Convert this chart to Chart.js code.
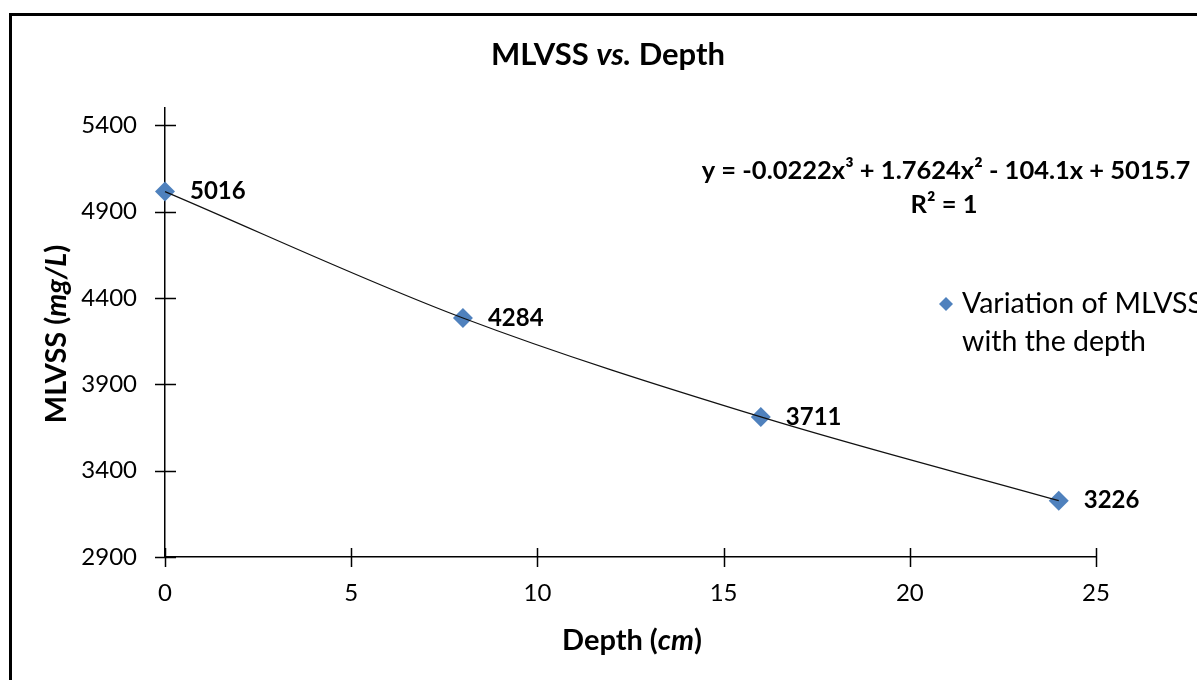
<!DOCTYPE html>
<html>
<head>
<meta charset="utf-8">
<script src="https://cdn.jsdelivr.net/npm/chart.js@4"></script>
<style>
  html, body { margin: 0; padding: 0; background: #fff; }
  #wrap { width: 1197px; height: 680px; }
</style>
</head>
<body>
<div id="wrap"><canvas id="c" width="1197" height="680"></canvas></div>
<script>
// ---- data ----
const depths = [0, 8, 16, 24];
const mlvss = [5016, 4284, 3711, 3226];
const xTickValues = [0, 5, 10, 15, 20, 25];
const yTickValues = [2900, 3400, 3900, 4400, 4900, 5400];
const titleParts = [['MLVSS ', false], ['vs.', true], [' Depth', false]];
const xTitleParts = [['Depth (', false], ['cm', true], [')', false]];
const yTitleParts = [['MLVSS (', false], ['mg/L', true], [')', false]];
const equationText = 'y = -0.0222x³ + 1.7624x² - 104.1x + 5015.7';
const r2Text = 'R² = 1';
const legendLines = ['Variation of MLVSS', 'with the depth'];

const FONT = 'Lato, "Open Sans", sans-serif';
const BLUE = '#4F81BD';
const points = depths.map((d, i) => ({ x: d, y: mlvss[i] }));

function drawRuns(ctx, parts, x, y, size, align) {
  let total = 0;
  const widths = parts.map(([t, it]) => {
    ctx.font = (it ? 'italic ' : '') + 'bold ' + size + 'px ' + FONT;
    const w = ctx.measureText(t).width;
    total += w;
    return w;
  });
  let cx = align === 'center' ? x - total / 2 : x;
  ctx.textAlign = 'left';
  ctx.textBaseline = 'middle';
  parts.forEach(([t, it], i) => {
    ctx.font = (it ? 'italic ' : '') + 'bold ' + size + 'px ' + FONT;
    ctx.fillText(t, cx, y);
    cx += widths[i];
  });
}

const decor = {
  id: 'decor',
  afterDatasetsDraw(chart) {
    const ctx = chart.ctx;
    const xs = chart.scales.x, ys = chart.scales.y;
    ctx.save();
    // cross tick marks
    ctx.strokeStyle = '#000';
    ctx.lineWidth = 1.5;
    ctx.beginPath();
    yTickValues.forEach(v => {
      const py = Math.round(ys.getPixelForValue(v)) + 0.5;
      ctx.moveTo(xs.left - 10, py); ctx.lineTo(xs.left + 11, py);
    });
    xTickValues.forEach(v => {
      const px = Math.round(xs.getPixelForValue(v)) + 0.5;
      ctx.moveTo(px, ys.bottom - 9); ctx.lineTo(px, ys.bottom + 10);
    });
    ctx.stroke();

    // data labels
    const meta = chart.getDatasetMeta(1);
    ctx.fillStyle = '#000';
    ctx.font = 'bold 24px ' + FONT;
    ctx.textAlign = 'left';
    ctx.textBaseline = 'middle';
    meta.data.forEach((el, i) => {
      ctx.fillText(String(mlvss[i]), el.x + 25, el.y);
    });

    // frame
    ctx.lineWidth = 3;
    ctx.strokeRect(10.5, 14.5, 1400, 900);

    // title
    drawRuns(ctx, titleParts, 608, 55, 31, 'center');
    // x title
    drawRuns(ctx, xTitleParts, 632, 641, 29, 'center');
    // y title
    ctx.save();
    ctx.translate(57, 334);
    ctx.rotate(-Math.PI / 2);
    drawRuns(ctx, yTitleParts, 0, 0, 29, 'center');
    ctx.restore();

    // equation
    ctx.fillStyle = '#000';
    ctx.textAlign = 'center';
    ctx.textBaseline = 'middle';
    ctx.font = 'bold 25.5px ' + FONT;
    ctx.fillText(equationText, 946, 171);
    ctx.fillText(r2Text, 944, 205);

    // legend
    ctx.fillStyle = BLUE;
    ctx.beginPath();
    const lx = 946, ly = 304, r = 7;
    ctx.moveTo(lx - r, ly); ctx.lineTo(lx, ly - r); ctx.lineTo(lx + r, ly); ctx.lineTo(lx, ly + r); ctx.closePath();
    ctx.fill();
    ctx.fillStyle = '#000';
    ctx.font = '28.5px ' + FONT;
    ctx.textAlign = 'left';
    ctx.fillText(legendLines[0], 962, 304);
    ctx.fillText(legendLines[1], 962, 342);
    ctx.restore();
  }
};

new Chart(document.getElementById('c'), {
  type: 'scatter',
  data: {
    datasets: [
      {
        label: 'trendline',
        data: points,
        showLine: true,
        borderColor: '#111',
        borderWidth: 1.2,
        pointRadius: 0,
        cubicInterpolationMode: 'monotone',
        fill: false,
        clip: false
      },
      {
        label: legendLines.join(' '),
        data: points,
        showLine: false,
        pointStyle: 'rectRot',
        pointRadius: 10,
        backgroundColor: BLUE,
        borderColor: BLUE,
        borderWidth: 0,
        clip: false
      }
    ]
  },
  options: {
    responsive: false,
    animation: false,
    devicePixelRatio: 1,
    layout: { padding: { left: 0, top: 108, right: 101, bottom: 63 } },
    plugins: { legend: { display: false }, title: { display: false }, tooltip: { enabled: false } },
    scales: {
      x: {
        type: 'linear', min: 0, max: 25,
        afterBuildTicks: s => { s.ticks = xTickValues.map(v => ({ value: v })); },
        afterFit: s => { s.height = 60; },
        grid: { display: false, drawTicks: false },
        border: { display: true, color: '#000', width: 1.5 },
        ticks: { padding: 22, color: '#000', font: { family: FONT, size: 24 }, maxRotation: 0,
                 callback: v => String(v) }
      },
      y: {
        type: 'linear', min: 2900, max: 5500,
        afterBuildTicks: s => { s.ticks = yTickValues.map(v => ({ value: v })); },
        afterFit: s => { s.width = 165; },
        grid: { display: false, drawTicks: false },
        border: { display: true, color: '#000', width: 1.5 },
        ticks: { padding: 28, color: '#000', font: { family: FONT, size: 24 },
                 callback: v => String(v) }
      }
    }
  },
  plugins: [decor]
});
</script>
</body>
</html>
